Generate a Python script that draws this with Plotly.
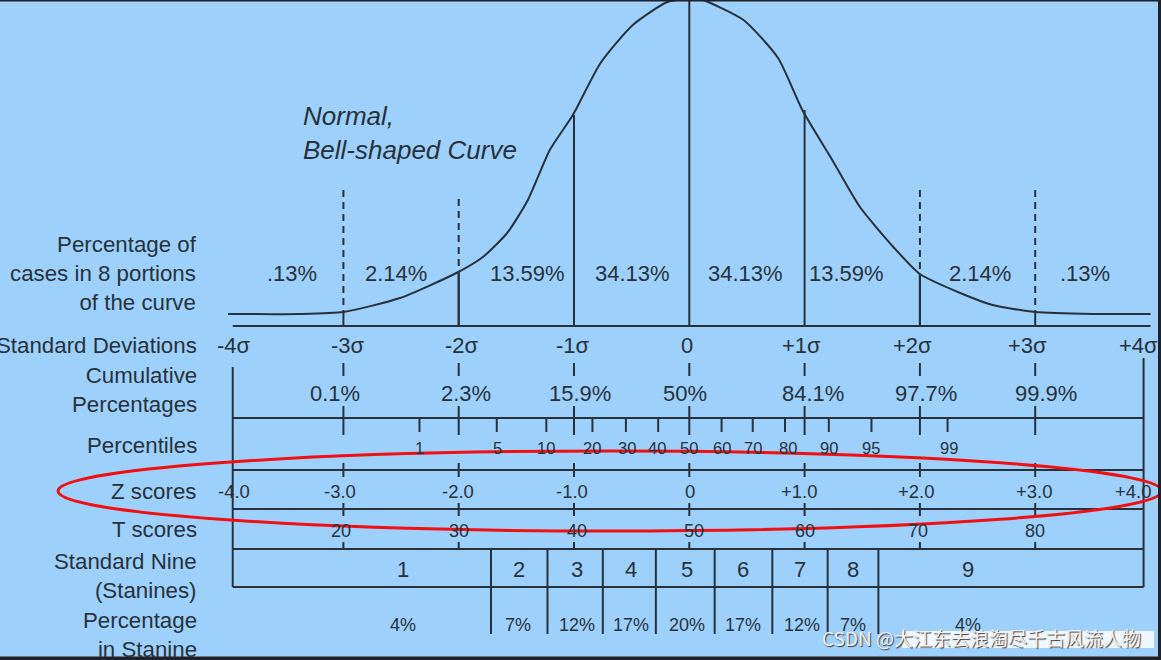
import plotly.graph_objects as go

# ---------------- data ----------------
# bell curve: sigma position and height above the curve's foot (pixel-like units)
curve_sigma = [-4.00, -3.38, -3.00, -2.51, -2.02, -1.79, -1.58, -1.40, -1.21, -1.01,
               -0.77, -0.49, -0.19, 0.04, 0.12, 0.47, 0.77, 0.98, 1.24, 1.48,
               1.77, 2.00, 2.35, 2.63, 3.00, 3.50, 4.00]
curve_height = [0, 0, 2, 16, 41, 57, 81, 114, 164, 199,
                251, 289, 312, 316, 314, 294, 256, 204, 154, 107,
                67, 40, 21, 9, 2, 0, 0]

# vertical dividers under the curve
solid_sigma = [-2, -1, 1, 2]
solid_top = [41, 199, 204, 40]
dashed_sigma = [-3, -2, 2, 3]
dashed_top = [124, 115, 124, 124]
dashed_bottom = [2, 41, 40, 2]

portion_labels = [".13%", "2.14%", "13.59%", "34.13%", "34.13%", "13.59%", "2.14%", ".13%"]
portion_pos = [-3.45, -2.54, -1.40, -0.49, 0.49, 1.36, 2.52, 3.43]

sigma_ticks = [-3, -2, -1, 0, 1, 2, 3]
box_left, box_right = -3.96, 3.94
sigma_labels = ["-4σ", "-3σ", "-2σ", "-1σ", "0", "+1σ", "+2σ", "+3σ", "+4σ"]
sigma_label_pos = [-3.95, -2.96, -1.97, -1.01, -0.02, 0.97, 1.94, 2.93, 3.90]

cum_labels = ["0.1%", "2.3%", "15.9%", "50%", "84.1%", "97.7%", "99.9%"]
cum_pos = [-3.07, -1.94, -0.95, -0.04, 1.07, 2.05, 3.09]

pct_labels = ["1", "5", "10", "20", "30", "40", "50", "60", "70", "80", "90", "95", "99"]
pct_pos = [-2.34, -1.67, -1.24, -0.84, -0.55, -0.27, 0.0, 0.28, 0.55, 0.83, 1.21, 1.58, 2.24]
pct_label_pos = [-2.34, -1.66, -1.24, -0.84, -0.54, -0.28, 0.0, 0.28, 0.55, 0.86, 1.21, 1.58, 2.25]

z_labels = ["-4.0", "-3.0", "-2.0", "-1.0", "0", "+1.0", "+2.0", "+3.0", "+4.0"]
z_label_pos = [-3.95, -3.03, -2.01, -1.02, 0.01, 0.96, 1.97, 2.99, 3.85]

t_labels = ["20", "30", "40", "50", "60", "70", "80"]
t_label_pos = [-3.02, -2.00, -0.97, 0.04, 1.00, 1.98, 3.00]

stanine_bounds = [-1.72, -1.23, -0.75, -0.29, 0.22, 0.72, 1.20, 1.64]
stanine_labels = ["1", "2", "3", "4", "5", "6", "7", "8", "9"]
stanine_label_pos = [-2.48, -1.48, -0.97, -0.51, -0.02, 0.47, 0.96, 1.42, 2.42]
stanine_pct = ["4%", "7%", "12%", "17%", "20%", "17%", "12%", "7%", "4%"]
stanine_pct_pos = [-2.48, -1.49, -0.97, -0.51, -0.02, 0.47, 0.98, 1.42, 2.42]

row_titles = ["Percentage of<br>cases in 8 portions<br>of the curve", "Standard Deviations",
              "Cumulative<br>Percentages", "Percentiles", "Z scores", "T scores",
              "Standard Nine<br>(Stanines)", "Percentage<br>in Stanine"]

# ---------------- layout constants ----------------
W, H = 1161, 660
CENTER_PX, UNIT_PX = 689.3, 115.3
X_RANGE = [(0 - CENTER_PX) / UNIT_PX, (W - CENTER_PX) / UNIT_PX]
CURVE_FOOT_PX = 314
Y2_RANGE = [CURVE_FOOT_PX - H, CURVE_FOOT_PX]
BASE_H = CURVE_FOOT_PX - 326          # baseline under curve, in curve units
TITLE_X = (199 - CENTER_PX) / UNIT_PX

BG = "#9DD1FC"
INK = "#28313a"
FONT = "Liberation Sans, Arial, sans-serif"

row_title_y = [273, 345, 390, 445, 491, 529, 576, 635]

fig = go.Figure()


def seg_trace(xs, ys, yaxis="y", dash="solid", width=2):
    fig.add_trace(go.Scatter(x=xs, y=ys, mode="lines", yaxis=yaxis, hoverinfo="skip",
                             showlegend=False, line=dict(color=INK, width=width, dash=dash)))


# bell curve
fig.add_trace(go.Scatter(x=curve_sigma, y=curve_height, mode="lines", yaxis="y2",
                         line=dict(color=INK, width=2, shape="spline", smoothing=0.6),
                         hoverinfo="skip", showlegend=False))

# lines under the curve (curve units)
xs, ys = [], []
for s, t in zip(solid_sigma, solid_top):
    xs += [s, s, None]; ys += [t, BASE_H, None]
xs += [0, 0, None]; ys += [Y2_RANGE[1] + 5, BASE_H, None]
for s, b in zip(dashed_sigma, dashed_bottom):
    xs += [s, s, None]; ys += [b, BASE_H, None]
xs += [box_left, 4.0, None]; ys += [BASE_H, BASE_H, None]
seg_trace(xs, ys, yaxis="y2")

xs, ys = [], []
for s, t, b in zip(dashed_sigma, dashed_top, dashed_bottom):
    xs += [s, s, None]; ys += [t, b, None]
seg_trace(xs, ys, yaxis="y2", dash="7px,5px")

# table lines (pixel rows)
xs, ys = [], []
for yrow in [418, 470, 509, 549, 587]:
    xs += [box_left, box_right, None]; ys += [yrow, yrow, None]
xs += [box_left, box_left, None]; ys += [367, 587, None]
xs += [box_right, box_right, None]; ys += [358, 587, None]
for s in sigma_ticks:
    for (a, b) in [(363, 376), (406, 435), (463, 477), (503, 516), (542, 549)]:
        xs += [s, s, None]; ys += [a, b, None]
for p in pct_pos:
    if p != 0.0:
        xs += [p, p, None]; ys += [418, 432, None]
for s in stanine_bounds:
    xs += [s, s, None]; ys += [549, 634, None]
seg_trace(xs, ys)

ann = []


def label(x, y, text, size, yref="y", xanchor="center", italic=False, align="center"):
    ann.append(dict(x=x, y=y, xref="x", yref=yref, text=text, showarrow=False,
                    xanchor=xanchor, yanchor="middle", align=align,
                    font=dict(family=FONT, size=size, color=INK,
                              style="italic" if italic else "normal")))


for t, p in zip(portion_labels, portion_pos):
    label(p, 273, t, 22)
for t, p in zip(sigma_labels, sigma_label_pos):
    label(p, 345, t, 22)
for t, p in zip(cum_labels, cum_pos):
    label(p, 393, t, 22)
for t, p in zip(pct_labels, pct_label_pos):
    label(p, 448, t, 16.5)
for t, p in zip(z_labels, z_label_pos):
    label(p, 491, t, 18.5)
for t, p in zip(t_labels, t_label_pos):
    label(p, 531, t, 18)
for t, p in zip(stanine_labels, stanine_label_pos):
    label(p, 569, t, 22)
for t, p in zip(stanine_pct, stanine_pct_pos):
    label(p, 625, t, 18)
for t, yv in zip(row_titles, row_title_y):
    label(TITLE_X, yv, t, 22.3, xanchor="right", align="right")

label((301 - CENTER_PX) / UNIT_PX, 133, "Normal,<br>Bell-shaped Curve", 26,
      xanchor="left", italic=True, align="left")

# watermark
ann.append(dict(x=(981 - CENTER_PX) / UNIT_PX, y=637, xref="x", yref="y",
                text="CSDN @大江东去浪淘尽千古风流人物", showarrow=False,
                xanchor="center", yanchor="middle",
                font=dict(family="Noto Sans CJK SC", size=19, color="#f2f2f2",
                          shadow="1px 1px 1px #3a3a3a")))

shapes = [
    # white highlight behind the watermark
    dict(type="rect", xref="paper", yref="paper", x0=902 / W, x1=1154 / W,
         y0=(H - 648) / H, y1=(H - 631) / H, fillcolor="white", opacity=0.85,
         line=dict(width=0), layer="below"),
    # red ellipse
    dict(type="circle", xref="x", yref="y",
         x0=(58 - CENTER_PX) / UNIT_PX, x1=(1162 - CENTER_PX) / UNIT_PX,
         y0=451, y1=531, line=dict(color="#F01010", width=3)),
    # dark frame edges
    dict(type="rect", xref="paper", yref="paper", x0=0, x1=1, y0=1 - 1.5 / H, y1=1,
         fillcolor="#202124", line=dict(width=0)),
    dict(type="rect", xref="paper", yref="paper", x0=1 - 3 / W, x1=1, y0=0, y1=1,
         fillcolor="#202124", line=dict(width=0)),
    dict(type="rect", xref="paper", yref="paper", x0=0, x1=1, y0=0, y1=3.5 / H,
         fillcolor="#202124", line=dict(width=0)),
]

fig.update_layout(
    width=W, height=H, margin=dict(l=0, r=0, t=0, b=0),
    paper_bgcolor=BG, plot_bgcolor=BG,
    xaxis=dict(range=X_RANGE, visible=False, fixedrange=True),
    yaxis=dict(range=[H, 0], visible=False, fixedrange=True),
    yaxis2=dict(range=Y2_RANGE, overlaying="y", visible=False, fixedrange=True),
    annotations=ann, shapes=shapes, showlegend=False,
)

fig.write_html(
    "out.html",
    config={"displayModeBar": False},
    post_script="document.body.style.margin='0';document.body.style.overflow='hidden';",
)
